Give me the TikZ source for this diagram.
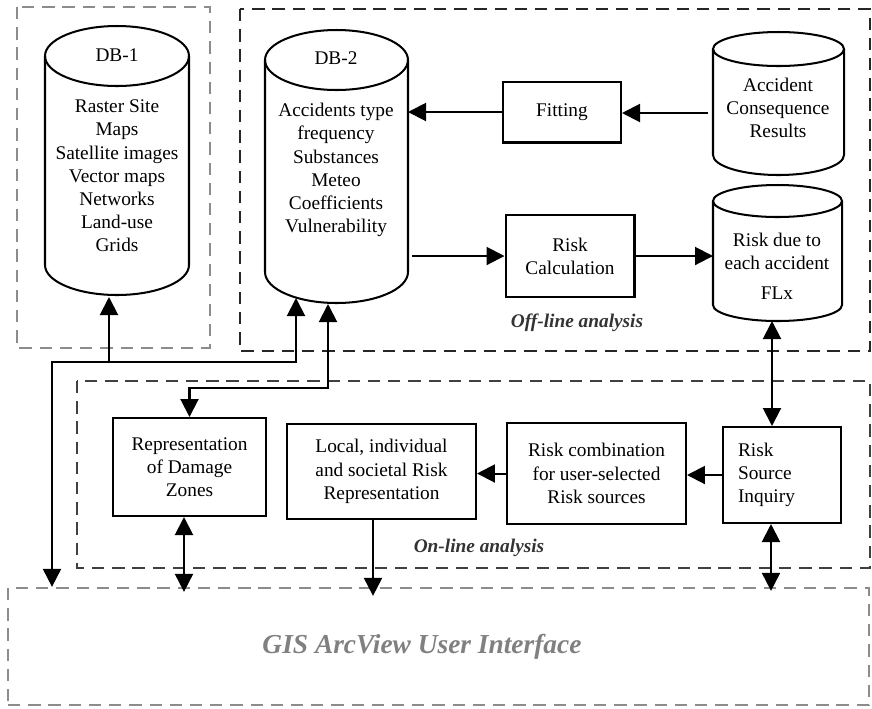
\documentclass[tikz,border=0pt]{standalone}
\usepackage{fontspec}
\setmainfont{Liberation Serif}
\usetikzlibrary{arrows.meta}

\begin{document}
\begin{tikzpicture}[x=0.02cm, y=-0.02cm,
    font=\fontsize{11}{13.2}\selectfont,
    line width=1.15pt,
    >={Triangle[length=0.36cm,width=0.36cm]},
    block/.style={draw, align=center, inner sep=2pt},
    zone/.style={dash pattern=on 7pt off 4.5pt, line width=1.3pt},
    tag/.style={font=\fontsize{11}{13}\selectfont\bfseries\itshape, text=black!80}]
    \useasboundingbox (0,0) rectangle (872,708);

    % dashed regions
    \draw[zone, black!45] (17,7) rectangle (210,348);
    \draw[zone, black!85] (240,9) rectangle (870,351);
    \draw[zone, black!75] (77,381) rectangle (870,568);
    \node[zone, draw=black!45, minimum width=17.22cm, minimum height=2.34cm] (gis) at (438.5,646.5) {};

    % databases
    \draw (45,56) -- (45,265) arc[start angle=180, end angle=0, x radius=72, y radius=30] -- (189,56);
    \draw (117,56) ellipse [x radius=72, y radius=30];
    \draw (265,60) -- (265,272) arc[start angle=180, end angle=0, x radius=71.5, y radius=31] -- (408,60);
    \draw (336.5,60) ellipse [x radius=71.5, y radius=30];
    \draw (713,49) -- (713,155) arc[start angle=180, end angle=0, x radius=65.5, y radius=20] -- (844,49);
    \draw (778.5,49) ellipse [x radius=65.5, y radius=17];
    \draw (713,201) -- (713,305) arc[start angle=180, end angle=0, x radius=64.5, y radius=16] -- (842,201);
    \draw (777.5,201) ellipse [x radius=64.5, y radius=16];

    \node (db1) at (117,55) {DB-1};
    \node[align=center] (db1data) at (117,176) {Raster Site\\Maps\\Satellite images\\Vector maps\\Networks\\Land-use\\Grids};
    \node (db2) at (336,58) {DB-2};
    \node[align=center] (db2data) at (336,170) {Accidents type\\frequency\\Substances\\Meteo\\Coefficients\\Vulnerability};
    \node[align=center] (acc) at (778,108) {Accident\\Consequence\\Results};
    \node[align=center] (riskdue) at (777,266) {Risk due to\\each accident\\[4pt]FLx};

    % processing blocks
    \node[block, minimum width=2.36cm, minimum height=1.22cm] (fit) at (562,112) {Fitting};
    \node[block, minimum width=2.58cm, minimum height=1.64cm] (calc) at (570,256) {Risk\\Calculation};
    \node[block, minimum width=3.06cm, minimum height=1.96cm] (dmg) at (189.5,467) {Representation\\of Damage\\Zones};
    \node[block, minimum width=3.78cm, minimum height=1.9cm] (local) at (381.5,471.5) {Local, individual\\and societal Risk\\Representation};
    \node[block, minimum width=3.58cm, minimum height=2.02cm] (comb) at (596.5,473.5) {Risk combination\\for user-selected\\Risk sources};
    \node[block, align=left, text width=1.76cm, inner xsep=0.3cm, minimum height=1.92cm] (inq) at (782,475) {Risk\\Source\\Inquiry};

    \node[tag] (offline) at (577,323) {Off-line analysis};
    \node[tag] (online) at (479,548) {On-line analysis};
    \node[font=\fontsize{15.6}{18}\selectfont\bfseries\itshape, text=black!50] (gislabel) at (422,647) {GIS ArcView User Interface};

    % connection points
    \coordinate (db1in) at (109,297);
    \coordinate (db2a) at (296,298);
    \coordinate (db2b) at (328,304);
    \coordinate (db2side) at (408,112);
    \coordinate (db2out) at (412,256);
    \coordinate (accout) at (708,113);
    \coordinate (riskin) at (713,256);
    \coordinate (riskbot) at (772,321);
    \coordinate (bus) at (52,362);
    \coordinate (bend) at (328,388);

    \draw[->] (accout) -- (accout -| fit.east);
    \draw[->] (fit.west) -- (db2side);
    \draw[->] (db2out) -- (calc.west);
    \draw[->] (calc.east) -- (riskin);
    \draw[<->] (riskbot) -- (riskbot |- inq.north);
    \draw[->] (inq.west) -- (inq.west -| comb.east);
    \draw[->] (comb.west) -- (comb.west -| local.east);
    \draw[->, shorten >=-0.18cm] (local.south -| 373,0) -- (373,0 |- gis.north);
    \draw[<->, shorten >=-0.1cm] (dmg.south -| 184,0) -- (184,0 |- gis.north);
    \draw[<->, shorten >=-0.08cm] (inq.south -| 771,0) -- (771,0 |- gis.north);
    \draw[<->] (bus |- gis.north) -- (bus) -| (db2a);
    \draw[->] (bus -| db1in) -- (db1in);
    \draw[<->] (db2b) -- (bend) -| (dmg.north);

\end{tikzpicture}
\end{document}
